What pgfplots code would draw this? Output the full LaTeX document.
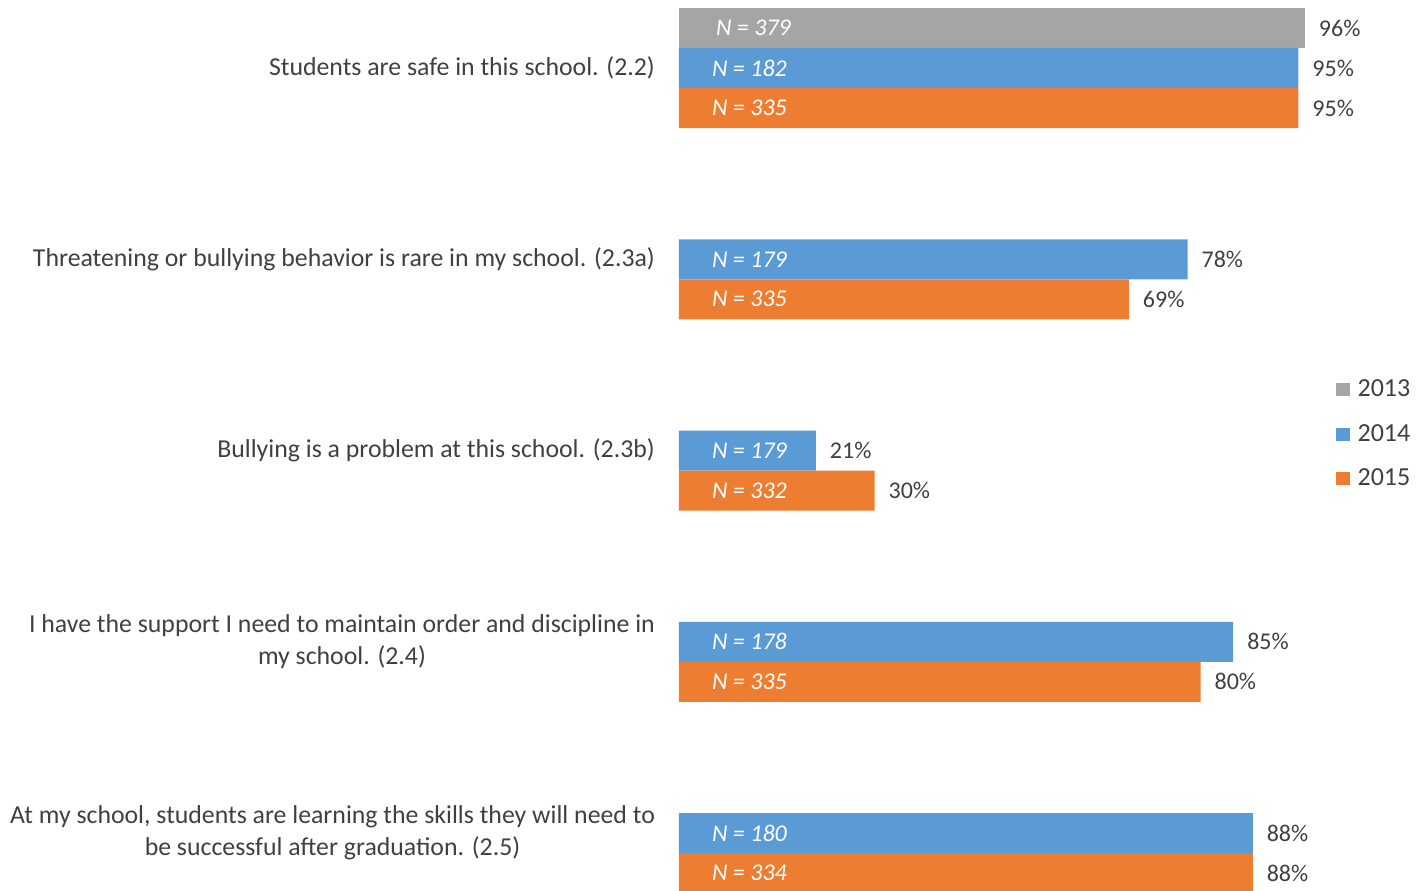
\documentclass[border=0pt]{standalone}
\usepackage{pgfplots}
\pgfplotsset{compat=1.18}
\usepackage{pgfplotstable}
\usepackage{fontspec}
\setmainfont{Carlito}
\definecolor{cgray}{HTML}{A5A5A5}
\definecolor{cblue}{HTML}{5B9BD5}
\definecolor{corange}{HTML}{ED7D31}
\definecolor{ctext}{HTML}{404040}
\pgfplotstableread{
y x n
0 96 379
}\tabA
\pgfplotstableread{
y x n
0 95 182
-1 78 179
-2 21 179
-3 85 178
-4 88 180
}\tabB
\pgfplotstableread{
y x n
0 95 335
-1 69 335
-2 30 332
-3 80 335
-4 88 334
}\tabC
\begin{document}
\begin{tikzpicture}
\begin{axis}[
  scale only axis,
  width=326pt, height=445pt,
  xmin=0, xmax=100,
  ymin=-4.298, ymax=0.3556,
  clip=false,
  /pgf/number format/assume math mode=true,
  axis line style={draw=none},
  xtick=\empty,
  ytick={0,-1,-2,-3,-4},
  yticklabels={
    {Students are safe in this school. (2.2)},
    {Threatening or bullying behavior is rare in my school. (2.3a)},
    {Bullying is a problem at this school. (2.3b)},
    {I have the support I need to maintain order and discipline in\\my school. (2.4)},
    {At my school, students are learning the skills they will need to\\be successful after graduation. (2.5)}},
  yticklabel style={align=center, font=\fontsize{12.9}{16}\selectfont, text=ctext, xshift=-8.5pt},
  major tick length=0pt,
  xbar, bar width=20pt,
  nodes near coords={\pgfmathprintnumber{\pgfplotspointmeta}\%},
  nodes near coords style={font=\fontsize{12}{13}\selectfont, text=ctext, anchor=west, xshift=3.5pt},
  legend style={draw=none, at={(1.0077,0.512)}, anchor=west, font=\fontsize{13}{14}\selectfont, text=ctext,
    row sep=8.3pt, inner sep=0pt, nodes={inner sep=2pt},
    /tikz/every odd column/.append style={column sep=2pt}},
  legend cell align=left,
  legend image code/.code={\fill[#1] (0pt,-3.3pt) rectangle (6.6pt,3.3pt);},
]
\addplot[fill=cgray, draw=none, bar shift=20pt] table[x=x, y=y, meta=x] {\tabA};
\addlegendentry{2013}
\addplot[fill=cblue, draw=none, bar shift=0pt] table[x=x, y=y, meta=x] {\tabB};
\addlegendentry{2014}
\addplot[fill=corange, draw=none, bar shift=-20pt] table[x=x, y=y, meta=x] {\tabC};
\addlegendentry{2015}
% N labels inside bars
\addplot[forget plot, draw=none, mark=none, bar shift=20pt, fill=none, point meta=explicit,
  nodes near coords={\itshape N = \pgfmathprintnumber{\pgfplotspointmeta}},
  nodes near coords style={font=\fontsize{12}{13}\selectfont, text=white, anchor=west, xshift=11.5pt}]
  table[x expr=0, y=y, meta=n] {\tabA};
\addplot[forget plot, draw=none, mark=none, bar shift=0pt, fill=none, point meta=explicit,
  nodes near coords={\itshape N = \pgfmathprintnumber{\pgfplotspointmeta}},
  nodes near coords style={font=\fontsize{12}{13}\selectfont, text=white, anchor=west, xshift=9.5pt}]
  table[x expr=0, y=y, meta=n] {\tabB};
\addplot[forget plot, draw=none, mark=none, bar shift=-20pt, fill=none, point meta=explicit,
  nodes near coords={\itshape N = \pgfmathprintnumber{\pgfplotspointmeta}},
  nodes near coords style={font=\fontsize{12}{13}\selectfont, text=white, anchor=west, xshift=9.5pt}]
  table[x expr=0, y=y, meta=n] {\tabC};
\end{axis}
\pgfresetboundingbox
\path[use as bounding box] ([xshift=-339.5pt]current axis.south west) rectangle ([xshift=46.5pt]current axis.north east);
\end{tikzpicture}
\end{document}
